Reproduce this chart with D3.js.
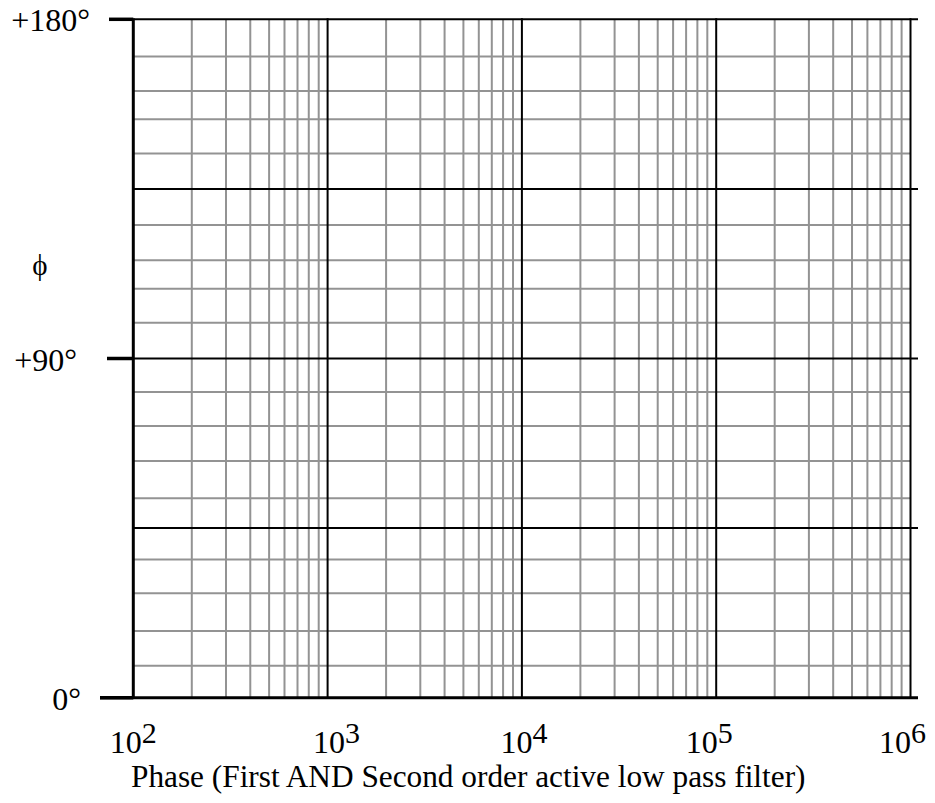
<!DOCTYPE html>
<html>
<head>
<meta charset="utf-8">
<script src="https://cdn.jsdelivr.net/npm/d3@7"></script>
<style>
  html, body { margin: 0; padding: 0; background: #fff; }
  svg { display: block; }
  text { font-family: "Liberation Serif", "Times New Roman", serif; fill: #000; }
</style>
</head>
<body>
<div id="chart"></div>
<script>
// ---- data ----
const freqDomain = [1e2, 1e6];                 // Hz, log axis
const decadeExponents = [2, 3, 4, 5, 6];       // tick labels 10^n
const phaseDomain = [0, 180];                  // degrees
const phaseLabels = [0, 90, 180];              // labelled ticks
const phaseLabelText = ["0°", "+90°", "+180°"];
const majorPhase = [0, 45, 90, 135, 180];      // black grid lines
const minorPhase = [8.5, 17.7, 27.7, 36.7, 52.9, 62.8, 72.1, 81.1,
                    99.5, 108.5, 116.1, 125.4, 144.4, 153.5, 161.0, 170.1];
const yAxisSymbol = "\u03D5";
const xTitle = "Phase (First AND Second order active low pass filter)";

// ---- layout ----
const W = 935, H = 803;
const plotL = 133.3, plotR = 910.5, plotT = 19.3, plotB = 697.7;
const majorExtend = 918;
const labelDx = {2: 0, 3: 9, 4: 2, 5: -7, 6: -8};
const tickStart = {0: 100, 90: 107, 180: 109};
const labelEnd = {0: 81, 90: 77, 180: 90};

const svg = d3.select("#chart").append("svg")
  .attr("width", W).attr("height", H);

const x = d3.scaleLog().domain(freqDomain).range([plotL, plotR]);
const y = d3.scaleLinear().domain(phaseDomain).range([plotB, plotT]);

const gray = "#939393";

// minor vertical lines (2..9 within each decade)
const allTicks = x.ticks();
const decadeVals = decadeExponents.map(e => Math.pow(10, e));
const minorX = allTicks.filter(v => !decadeVals.some(d => Math.abs(d - v) / d < 1e-9));

svg.append("g").selectAll("line").data(minorX).join("line")
  .attr("x1", d => x(d)).attr("x2", d => x(d))
  .attr("y1", plotT).attr("y2", plotB)
  .attr("stroke", gray).attr("stroke-width", 2);

// minor horizontal lines
svg.append("g").selectAll("line").data(minorPhase).join("line")
  .attr("x1", plotL).attr("x2", plotR)
  .attr("y1", d => y(d)).attr("y2", d => y(d))
  .attr("stroke", gray).attr("stroke-width", 2);

// major horizontal lines
svg.append("g").selectAll("line").data(majorPhase).join("line")
  .attr("x1", d => d === 0 ? tickStart[0] : plotL).attr("x2", majorExtend)
  .attr("y1", d => y(d)).attr("y2", d => y(d))
  .attr("stroke", "#000").attr("stroke-width", d => d === 0 ? 3 : 2);

// decade vertical lines
svg.append("g").selectAll("line").data(decadeVals).join("line")
  .attr("x1", d => x(d)).attr("x2", d => x(d))
  .attr("y1", plotT - 1).attr("y2", plotB + 1)
  .attr("stroke", "#000").attr("stroke-width", (d, i) => i === 0 ? 3 : 2);

// y ticks
svg.append("g").selectAll("line").data(phaseLabels).join("line")
  .attr("x1", d => tickStart[d]).attr("x2", plotL)
  .attr("y1", d => y(d)).attr("y2", d => y(d))
  .attr("stroke", "#000").attr("stroke-width", 3.5);

// y labels
svg.append("g").selectAll("text").data(phaseLabels).join("text")
  .attr("x", d => labelEnd[d]).attr("y", d => y(d) + 12)
  .attr("text-anchor", "end")
  .attr("font-size", 32)
  .text((d, i) => phaseLabelText[i]);

// y axis symbol
svg.append("text")
  .attr("x", 40).attr("y", 275)
  .attr("text-anchor", "middle")
  .attr("font-size", 29)
  .text(yAxisSymbol);

// x labels 10^n
const xl = svg.append("g").selectAll("text").data(decadeExponents).join("text")
  .attr("x", d => x(Math.pow(10, d)) + labelDx[d])
  .attr("y", 753)
  .attr("text-anchor", "middle")
  .attr("font-size", 32);
xl.append("tspan").text("10");
xl.append("tspan").attr("dy", -10).attr("font-size", 30).text(d => d);

// x title
svg.append("text")
  .attr("x", 131).attr("y", 787)
  .attr("font-size", 31.3)
  .text(xTitle);
</script>
</body>
</html>
